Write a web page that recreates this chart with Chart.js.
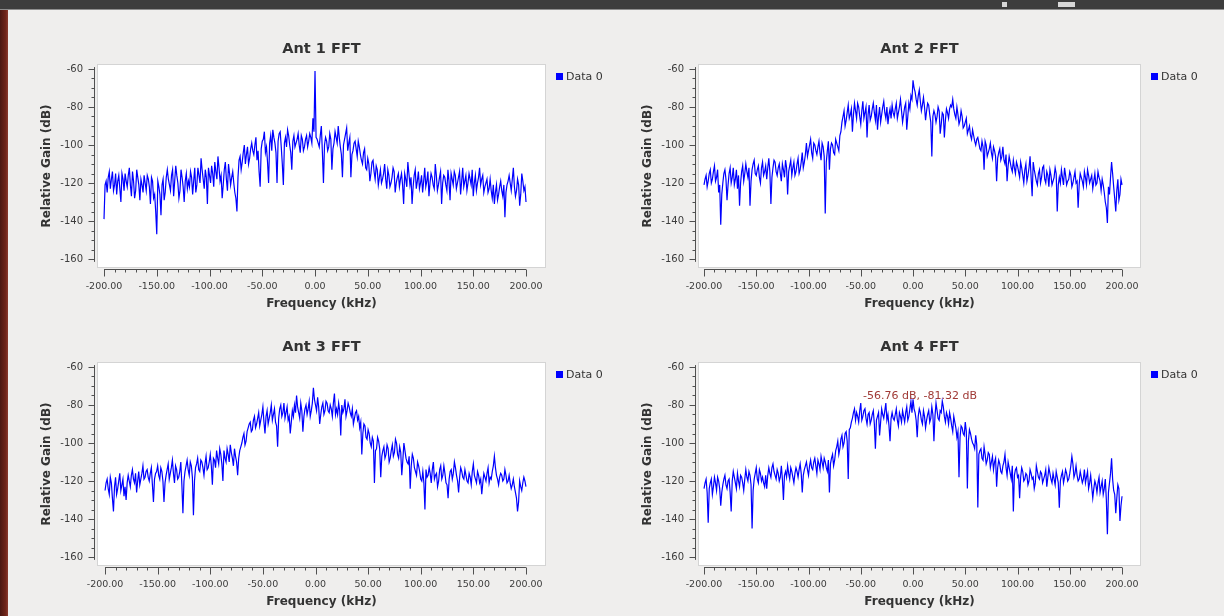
<!DOCTYPE html>
<html>
<head>
<meta charset="utf-8">
<script src="https://cdn.jsdelivr.net/npm/chart.js@4.4.1/dist/chart.umd.min.js"></script>
<style>
  body { margin: 0; width: 1224px; height: 616px; overflow: hidden; background: #efeeed; position: relative; }
  #topbar { position: absolute; left: 0; top: 0; width: 1224px; height: 9px; background: #3d3d3d; border-bottom: 1px solid #8e8e8e; }
  #topbar .btn { position: absolute; top: 2px; height: 5px; background: #d8d8d8; }
  #leftbar { position: absolute; left: 0; top: 10px; width: 8px; height: 606px; background: linear-gradient(to right, #4a1711, #6e2419 70%, #8a3a2e); }
  canvas { position: absolute; }
</style>
</head>
<body>
<div id="topbar"><div class="btn" style="left:1058px;width:17px"></div><div class="btn" style="left:1002px;width:5px"></div></div>
<div id="leftbar"></div>
<canvas id="ant1" width="612" height="313" style="left:0px;top:0px"></canvas>
<canvas id="ant2" width="612" height="313" style="left:601px;top:0px"></canvas>
<canvas id="ant3" width="612" height="313" style="left:0px;top:298px"></canvas>
<canvas id="ant4" width="612" height="313" style="left:601px;top:298px"></canvas>
<script>
// FFT bins: -200 kHz .. +200 kHz in 1 kHz steps
const binStartKHz = -200;
const binStepKHz = 1;

const freqTicks = [-200, -150, -100, -50, 0, 50, 100, 150, 200];
const gainTicks = [-160, -140, -120, -100, -80, -60];
const freqMinorStep = 10;
const gainMinorStep = 5;

const panelTitles = ['Ant 1 FFT', 'Ant 2 FFT', 'Ant 3 FFT', 'Ant 4 FFT'];
const seriesName = 'Data 0';

// relative gain (dB) per bin, one row = 20 kHz, the lone value is the 0 kHz bin
const ant1Gain = [
  -139, -121, -119, -125, -117, -114, -123, -118, -114, -124, -121, -115, -126, -119, -116, -123, -130, -115, -118, -124,
  -115, -119, -122, -116, -112, -121, -127, -114, -119, -128, -124, -113, -117, -121, -129, -118, -121, -125, -116, -120,
  -124, -116, -118, -122, -131, -117, -119, -128, -126, -135, -147, -119, -122, -126, -137, -121, -118, -129, -125, -117,
  -113, -118, -121, -124, -116, -113, -127, -119, -111, -116, -120, -128, -124, -113, -117, -122, -130, -119, -115, -123,
  -119, -122, -114, -117, -126, -119, -112, -125, -121, -112, -116, -120, -107, -113, -118, -123, -113, -117, -131, -112,
  -116, -120, -111, -115, -122, -109, -114, -118, -106, -112, -119, -116, -128, -121, -113, -109, -118, -124, -110, -115,
  -121, -117, -114, -120, -125, -128, -135, -117, -108, -106, -113, -109, -104, -100, -110, -105, -101, -110, -107, -102,
  -99, -103, -105, -100, -96, -108, -103, -114, -122, -102, -98, -97, -93, -104, -101, -109, -120, -99, -95, -103,
  -92, -96, -99, -104, -120, -98, -94, -93, -101, -110, -121, -99, -96, -101, -92, -95, -100, -104, -113, -98,
  -95, -101, -99, -97, -94, -100, -104, -95, -97, -103, -101, -97, -95, -101, -98, -94, -96, -99, -86, -93,
  -61,
  -96, -97, -99, -101, -95, -90, -104, -120, -100, -96, -98, -103, -101, -94, -97, -113, -102, -99, -93, -96,
  -99, -90, -96, -101, -105, -117, -100, -97, -94, -91, -103, -99, -96, -117, -105, -103, -99, -98, -102, -106,
  -98, -101, -105, -108, -110, -104, -102, -112, -113, -107, -110, -119, -115, -109, -108, -114, -118, -111, -113, -121,
  -117, -113, -120, -118, -115, -110, -118, -123, -113, -116, -122, -120, -117, -112, -114, -125, -120, -117, -115, -122,
  -118, -115, -121, -131, -115, -118, -122, -109, -115, -121, -117, -131, -122, -116, -113, -123, -119, -114, -123, -120,
  -116, -125, -119, -112, -122, -119, -114, -127, -120, -115, -117, -121, -123, -110, -116, -124, -121, -117, -114, -131,
  -120, -116, -117, -121, -124, -113, -119, -129, -115, -118, -121, -114, -116, -123, -120, -117, -114, -126, -119, -112,
  -122, -119, -116, -124, -120, -115, -118, -121, -113, -127, -120, -116, -124, -120, -117, -112, -121, -118, -116, -125,
  -122, -120, -118, -125, -123, -118, -124, -128, -121, -131, -125, -121, -129, -126, -122, -119, -124, -127, -121, -138,
  -125, -121, -119, -116, -120, -124, -118, -112, -122, -127, -124, -118, -121, -132, -126, -115, -119, -124, -122, -130
];

const ant2Gain = [
  -121, -118, -116, -122, -119, -115, -113, -120, -118, -114, -111, -119, -117, -113, -125, -121, -142, -126, -120, -115,
  -113, -118, -129, -121, -115, -112, -120, -117, -112, -121, -118, -113, -123, -116, -132, -120, -114, -111, -119, -115,
  -110, -114, -117, -112, -132, -119, -113, -110, -108, -115, -116, -113, -111, -117, -120, -112, -109, -116, -114, -111,
  -118, -112, -107, -114, -131, -117, -112, -108, -109, -114, -116, -112, -110, -115, -119, -110, -113, -117, -108, -112,
  -126, -114, -111, -108, -116, -112, -109, -116, -114, -110, -107, -115, -113, -109, -104, -112, -109, -105, -99, -106,
  -103, -100, -97, -104, -107, -99, -100, -103, -105, -101, -98, -104, -108, -99, -101, -106, -136, -109, -103, -98,
  -113, -102, -99, -100, -104, -105, -97, -99, -101, -103, -95, -93, -88, -85, -82, -90, -87, -83, -79, -86,
  -84, -81, -93, -84, -78, -82, -86, -78, -80, -85, -89, -82, -77, -86, -83, -80, -96, -84, -79, -87,
  -85, -81, -78, -83, -87, -79, -92, -85, -80, -88, -84, -80, -77, -83, -86, -80, -89, -84, -81, -86,
  -79, -83, -85, -81, -78, -86, -83, -80, -76, -82, -88, -84, -80, -78, -92, -85, -78, -81, -74, -76,
  -66,
  -70, -72, -76, -79, -74, -71, -77, -82, -79, -75, -80, -87, -82, -78, -79, -84, -88, -106, -85, -82,
  -84, -88, -85, -80, -82, -94, -89, -83, -84, -96, -87, -81, -83, -86, -81, -79, -80, -76, -81, -84,
  -86, -80, -84, -89, -87, -82, -85, -91, -90, -88, -86, -94, -92, -90, -95, -97, -92, -95, -98, -100,
  -97, -96, -99, -102, -103, -98, -101, -113, -98, -100, -106, -104, -102, -99, -104, -107, -101, -103, -106, -119,
  -107, -104, -102, -108, -106, -101, -108, -110, -105, -119, -111, -106, -109, -112, -114, -108, -112, -115, -109, -111,
  -114, -117, -109, -112, -116, -120, -113, -110, -119, -116, -112, -106, -117, -127, -109, -113, -116, -119, -121, -115,
  -113, -120, -117, -112, -111, -118, -120, -114, -116, -122, -113, -116, -121, -119, -117, -112, -115, -135, -121, -117,
  -120, -113, -117, -121, -112, -116, -121, -119, -118, -114, -116, -122, -120, -117, -114, -120, -119, -133, -121, -115,
  -117, -119, -122, -114, -117, -121, -113, -116, -120, -118, -116, -123, -119, -115, -121, -120, -114, -117, -119, -124,
  -118, -121, -125, -130, -133, -141, -122, -126, -117, -109, -115, -122, -128, -135, -124, -118, -129, -126, -118, -121
];

const ant3Gain = [
  -125, -121, -119, -124, -127, -118, -121, -129, -136, -123, -118, -127, -124, -120, -116, -125, -122, -119, -128, -123,
  -130, -121, -117, -120, -123, -117, -114, -119, -121, -116, -126, -120, -115, -122, -119, -116, -112, -119, -118, -115,
  -114, -118, -120, -116, -113, -122, -131, -119, -116, -115, -112, -117, -119, -113, -115, -120, -131, -121, -117, -114,
  -111, -119, -116, -113, -109, -116, -121, -112, -114, -119, -118, -115, -110, -122, -137, -120, -115, -112, -109, -114,
  -117, -110, -112, -118, -138, -120, -113, -111, -108, -114, -115, -109, -110, -113, -117, -111, -107, -114, -113, -110,
  -106, -112, -122, -108, -109, -113, -104, -108, -111, -103, -106, -111, -120, -104, -108, -110, -103, -106, -110, -101,
  -105, -108, -112, -103, -107, -110, -117, -108, -104, -102, -100, -97, -95, -101, -99, -94, -92, -90, -89, -94,
  -93, -88, -86, -92, -90, -87, -84, -91, -88, -85, -81, -89, -95, -86, -83, -90, -87, -84, -80, -88,
  -85, -82, -89, -91, -102, -87, -82, -80, -86, -84, -79, -87, -84, -81, -88, -86, -95, -89, -83, -86,
  -80, -84, -75, -81, -84, -87, -79, -83, -94, -86, -82, -80, -85, -82, -78, -86, -83, -79, -71, -77,
  -80,
  -83, -76, -81, -90, -85, -81, -79, -85, -83, -78, -79, -83, -84, -80, -82, -86, -79, -74, -85, -82,
  -85, -79, -83, -96, -80, -84, -82, -77, -86, -83, -79, -81, -84, -86, -82, -90, -87, -84, -83, -88,
  -86, -92, -89, -106, -95, -90, -91, -97, -98, -93, -95, -100, -102, -97, -99, -121, -104, -103, -97, -99,
  -103, -118, -107, -104, -102, -108, -106, -101, -103, -110, -108, -104, -101, -107, -105, -98, -100, -106, -108, -102,
  -105, -117, -109, -100, -104, -108, -110, -111, -107, -124, -112, -106, -108, -113, -115, -117, -110, -112, -115, -119,
  -120, -115, -121, -135, -114, -118, -117, -113, -116, -121, -114, -110, -119, -117, -116, -123, -120, -114, -112, -119,
  -117, -112, -116, -121, -122, -129, -119, -115, -114, -119, -116, -110, -113, -117, -120, -126, -118, -113, -115, -118,
  -119, -114, -117, -120, -121, -116, -118, -122, -115, -111, -117, -119, -121, -115, -117, -121, -119, -127, -121, -116,
  -118, -120, -116, -113, -121, -118, -119, -115, -112, -107, -113, -117, -119, -122, -118, -116, -117, -120, -119, -114,
  -117, -121, -120, -117, -121, -124, -122, -119, -123, -126, -129, -136, -131, -120, -123, -125, -121, -118, -120, -123
];

const ant4Gain = [
  -124, -121, -119, -126, -142, -124, -121, -119, -127, -123, -118, -121, -125, -118, -120, -124, -133, -126, -122, -119,
  -117, -122, -124, -120, -119, -126, -136, -120, -115, -118, -121, -124, -116, -120, -123, -117, -118, -121, -125, -119,
  -114, -118, -120, -115, -117, -122, -145, -125, -119, -116, -113, -119, -121, -114, -116, -120, -118, -121, -123, -117,
  -124, -117, -113, -116, -118, -113, -111, -115, -117, -119, -114, -116, -120, -118, -112, -119, -130, -117, -115, -118,
  -112, -116, -119, -113, -115, -118, -121, -116, -113, -115, -118, -114, -111, -116, -126, -117, -114, -112, -110, -114,
  -117, -112, -109, -113, -114, -110, -108, -112, -116, -109, -111, -114, -107, -110, -113, -108, -110, -113, -115, -109,
  -126, -111, -108, -106, -112, -109, -104, -102, -99, -106, -103, -98, -96, -102, -100, -95, -94, -99, -119, -93,
  -92, -89, -87, -84, -82, -88, -84, -86, -89, -83, -79, -88, -86, -83, -82, -87, -90, -85, -84, -90,
  -88, -85, -83, -90, -103, -88, -86, -84, -96, -89, -82, -85, -87, -83, -79, -88, -85, -91, -99, -87,
  -84, -87, -88, -85, -82, -88, -91, -84, -86, -89, -83, -86, -89, -84, -81, -88, -86, -82, -78, -84,
  -77,
  -82, -84, -88, -97, -86, -82, -84, -88, -90, -83, -86, -92, -88, -85, -83, -89, -87, -81, -85, -99,
  -86, -79, -83, -87, -88, -83, -84, -78, -81, -86, -89, -84, -86, -90, -84, -87, -91, -94, -86, -89,
  -92, -97, -94, -118, -97, -91, -92, -95, -96, -89, -94, -124, -99, -93, -95, -98, -100, -101, -103, -96,
  -101, -134, -106, -104, -103, -108, -109, -102, -106, -111, -109, -105, -106, -113, -110, -107, -114, -110, -108, -123,
  -113, -109, -111, -115, -116, -112, -110, -106, -113, -117, -110, -113, -116, -119, -112, -136, -117, -114, -113, -118,
  -117, -129, -118, -113, -115, -120, -119, -116, -117, -122, -120, -114, -116, -119, -118, -124, -121, -112, -115, -118,
  -119, -115, -116, -121, -119, -117, -114, -123, -118, -113, -116, -119, -121, -116, -119, -122, -115, -118, -121, -134,
  -120, -117, -115, -121, -118, -114, -116, -120, -119, -116, -112, -107, -111, -118, -116, -112, -117, -120, -119, -115,
  -118, -121, -119, -114, -121, -118, -115, -124, -121, -117, -123, -129, -124, -120, -122, -126, -121, -118, -126, -123,
  -120, -127, -124, -119, -130, -148, -126, -121, -116, -108, -119, -125, -127, -137, -129, -122, -124, -141, -133, -128
];

const gainView = { min: -164.2, max: -57.9 };

const panels = [
  { id: 'ant1', title: panelTitles[0], gain: ant1Gain, padRight: 67, xMin: -205.7, xMax: 218.0 },
  { id: 'ant2', title: panelTitles[1], gain: ant2Gain, padRight: 73, xMin: -204.8, xMax: 217.2 },
  { id: 'ant3', title: panelTitles[2], gain: ant3Gain, padRight: 67, xMin: -206.7, xMax: 218.1 },
  { id: 'ant4', title: panelTitles[3], gain: ant4Gain, padRight: 73, xMin: -204.8, xMax: 217.2,
    tracker: { text: '-56.76 dB, -81.32 dB', x: 6.7, y: -75.1 } }
];

Chart.defaults.font.family = '"DejaVu Sans", sans-serif';

const textDark = '#333333';
const axisGrey = '#505050';

// qwt-like canvas, axis backbones, title, legend and tracker text
const panelDecor = {
  id: 'panelDecor',
  beforeDraw(chart) {
    const { ctx, chartArea: a } = chart;
    ctx.save();
    ctx.fillStyle = '#ffffff';
    ctx.fillRect(a.left, a.top, a.right - a.left, a.bottom - a.top);
    ctx.strokeStyle = '#d4d4d4';
    ctx.lineWidth = 1;
    ctx.strokeRect(a.left - 0.5, a.top - 0.5, a.right - a.left + 1, a.bottom - a.top + 1);
    ctx.restore();
  },
  afterDraw(chart, args, opts) {
    const { ctx, chartArea: a } = chart;
    const x = chart.scales.x, y = chart.scales.y;
    ctx.save();
    ctx.strokeStyle = axisGrey;
    ctx.lineWidth = 1;
    ctx.beginPath();

    // left axis
    const bx = Math.round(a.left) - 3.5;
    ctx.moveTo(bx, y.getPixelForValue(gainTicks[gainTicks.length - 1] + 1));
    ctx.lineTo(bx, y.getPixelForValue(gainTicks[0] - 1.5));
    for (let v = gainTicks[0]; v <= gainTicks[gainTicks.length - 1]; v += gainMinorStep) {
      const py = Math.round(y.getPixelForValue(v)) + 0.5;
      const len = gainTicks.includes(v) ? 6 : 3;
      ctx.moveTo(bx, py);
      ctx.lineTo(bx - len, py);
    }

    // bottom axis
    const by = Math.round(a.bottom) + 2.5;
    ctx.moveTo(x.getPixelForValue(freqTicks[0]), by);
    ctx.lineTo(x.getPixelForValue(freqTicks[freqTicks.length - 1]), by);
    for (let v = freqTicks[0]; v <= freqTicks[freqTicks.length - 1]; v += freqMinorStep) {
      const px = Math.round(x.getPixelForValue(v)) + 0.5;
      const len = freqTicks.includes(v) ? 7 : 3;
      ctx.moveTo(px, by);
      ctx.lineTo(px, by + len);
    }
    ctx.stroke();

    // title
    ctx.fillStyle = textDark;
    ctx.font = 'bold 14.5px "DejaVu Sans"';
    ctx.textAlign = 'center';
    ctx.textBaseline = 'middle';
    ctx.fillText(opts.title, (a.left + a.right) / 2, a.top - 16);

    // legend
    const ds = chart.data.datasets[0];
    ctx.fillStyle = ds.borderColor;
    ctx.fillRect(a.right + 11, a.top + 8, 7, 7);
    ctx.fillStyle = textDark;
    ctx.font = '11px "DejaVu Sans"';
    ctx.textAlign = 'left';
    ctx.fillText(ds.label, a.right + 21, a.top + 12);

    if (opts.tracker) {
      ctx.fillStyle = '#a03a36';
      ctx.font = '11px "DejaVu Sans"';
      ctx.textAlign = 'center';
      ctx.fillText(opts.tracker.text, x.getPixelForValue(opts.tracker.x), y.getPixelForValue(opts.tracker.y));
    }
    ctx.restore();
  }
};

panels.forEach(p => {
  const points = p.gain.map((g, i) => ({ x: binStartKHz + i * binStepKHz, y: g }));

  new Chart(document.getElementById(p.id), {
    type: 'line',
    data: {
      datasets: [{
        label: seriesName,
        data: points,
        borderColor: '#0000ff',
        borderWidth: 1.2,
        pointRadius: 0,
        tension: 0
      }]
    },
    options: {
      responsive: false,
      animation: false,
      events: [],
      layout: { padding: { left: 40, top: 65, right: p.padRight, bottom: 2 } },
      plugins: {
        legend: { display: false },
        tooltip: { enabled: false },
        panelDecor: { title: p.title, tracker: p.tracker }
      },
      scales: {
        x: {
          type: 'linear',
          min: p.xMin,
          max: p.xMax,
          afterBuildTicks: (axis) => { axis.ticks = freqTicks.map(v => ({ value: v })); },
          afterFit: (axis) => { axis.height = 44; },
          grid: { display: false, drawTicks: false },
          border: { display: false },
          ticks: {
            padding: 14,
            autoSkip: false,
            maxRotation: 0,
            color: '#3c3c3c',
            font: { size: 9.5 },
            callback: (v) => v.toFixed(2)
          },
          title: {
            display: true,
            text: 'Frequency (kHz)',
            color: textDark,
            padding: 0,
            font: { size: 12, weight: 'bold' }
          }
        },
        y: {
          type: 'linear',
          min: gainView.min,
          max: gainView.max,
          afterBuildTicks: (axis) => { axis.ticks = gainTicks.map(v => ({ value: v })); },
          afterFit: (axis) => { axis.width = 58; },
          grid: { display: false, drawTicks: false },
          border: { display: false },
          ticks: {
            padding: 15,
            color: '#3c3c3c',
            font: { size: 10 },
            callback: (v) => String(v)
          },
          title: {
            display: true,
            text: 'Relative Gain (dB)',
            color: textDark,
            padding: 0,
            font: { size: 12, weight: 'bold' }
          }
        }
      }
    },
    plugins: [panelDecor]
  });
});
</script>
</body>
</html>
